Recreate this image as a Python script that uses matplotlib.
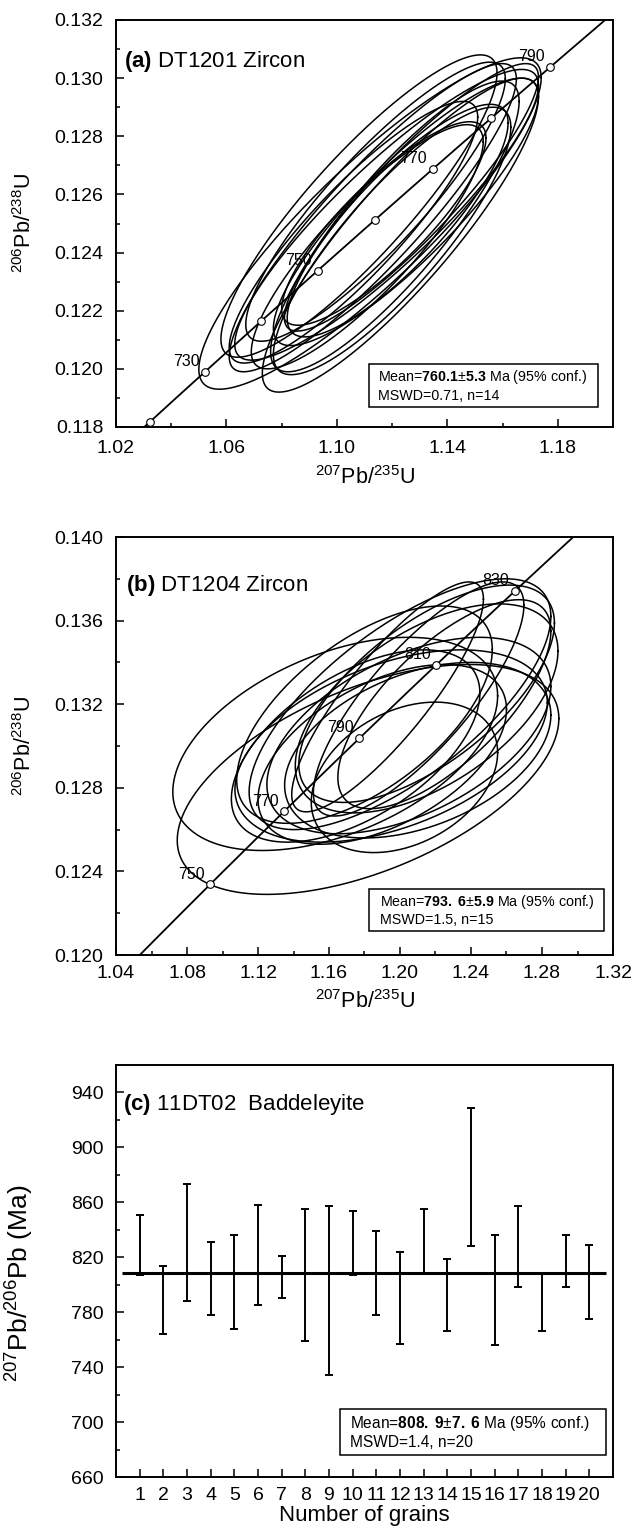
import numpy as np
import matplotlib
matplotlib.use("Agg")
import matplotlib.pyplot as plt
from matplotlib.patches import Rectangle
from matplotlib.ticker import MultipleLocator, FixedLocator

FONT = "Liberation Sans"
plt.rcParams["font.family"] = [FONT, "DejaVu Sans"]
plt.rcParams["mathtext.fontset"] = "custom"
plt.rcParams["mathtext.rm"] = FONT
plt.rcParams["mathtext.bf"] = FONT + ":bold"
plt.rcParams["mathtext.default"] = "regular"

# decay constants (1/yr) for the concordia curve
L238 = 1.55125e-10
L235 = 9.8485e-10

# ---- (a) DT1201 zircon: ellipse centre x, centre y, half-width x, half-height y, rho
a_cx = [1.1120, 1.1170, 1.1080, 1.1230, 1.1140, 1.1210, 1.1060, 1.1250, 1.1110, 1.1270, 1.1180, 1.1200, 1.1130, 1.1220]
a_cy = [0.12500, 0.12500, 0.12560, 0.12460, 0.12575, 0.12490, 0.12470, 0.12540, 0.12420, 0.12590, 0.12530, 0.12440, 0.12520, 0.12510]
a_hx = [0.0620, 0.0370, 0.0500, 0.0500, 0.0470, 0.0450, 0.0450, 0.0480, 0.0420, 0.0460, 0.0550, 0.0430, 0.0520, 0.0400]
a_hy = [0.0057, 0.0035, 0.0052, 0.0054, 0.0048, 0.0050, 0.0045, 0.0046, 0.0042, 0.0046, 0.0050, 0.0046, 0.0053, 0.0040]
a_rho = [0.88, 0.84, 0.88, 0.88, 0.88, 0.86, 0.88, 0.87, 0.86, 0.90, 0.89, 0.85, 0.90, 0.84]
a_ages = [720, 730, 740, 750, 760, 770, 780, 790]
a_labels = [730, 750, 770, 790]

# ---- (b) DT1204 zircon
b_cx = [1.1820, 1.1635, 1.1930, 1.2105, 1.2000, 1.2150, 1.2050, 1.1950, 1.2100, 1.2025, 1.1800, 1.1900, 1.2150, 1.1750, 1.2250]
b_cy = [0.1284, 0.1301, 0.13235, 0.13225, 0.1320, 0.1318, 0.1305, 0.1300, 0.1298, 0.1285, 0.1315, 0.1296, 0.1325, 0.1300, 0.1320]
b_hx = [0.1075, 0.0915, 0.0540, 0.0593, 0.0850, 0.0740, 0.0800, 0.0880, 0.0750, 0.0525, 0.0720, 0.0700, 0.0720, 0.0700, 0.0600]
b_hy = [0.0055, 0.0051, 0.0055, 0.0056, 0.0060, 0.0050, 0.0047, 0.0046, 0.0042, 0.0036, 0.0052, 0.0043, 0.0052, 0.0046, 0.0050]
b_rho = [0.53, 0.45, 0.85, 0.80, 0.70, 0.55, 0.50, 0.45, 0.40, 0.33, 0.60, 0.50, 0.65, 0.55, 0.70]
b_ages = [750, 770, 790, 810, 830]
b_labels = [750, 770, 790, 810, 830]

# ---- (c) 11DT02 baddeleyite 207Pb/206Pb ages, error bar ends (Ma)
grains = list(range(1, 21))
c_low = [807, 764, 788, 778, 768, 785, 790, 759, 734, 807, 778, 757, 808, 766, 828, 756, 798, 766, 798, 775]
c_high = [851, 814, 873, 831, 836, 858, 821, 855, 857, 854, 839, 824, 855, 819, 929, 836, 857, 808, 836, 829]
c_mean = 808.9
c_yticks = [660, 700, 740, 780, 820, 860, 900, 940]

fig = plt.figure(figsize=(6.32, 15.31), dpi=100)
W, H = 632.0, 1531.0


def add_axes(left, right, top, bottom):
    return fig.add_axes([left / W, 1 - bottom / H, (right - left) / W, (bottom - top) / H])


def concordia(t_ma):
    t = np.asarray(t_ma, dtype=float) * 1e6
    return np.exp(L235 * t) - 1, np.exp(L238 * t) - 1


def ellipse(cx, cy, hx, hy, rho):
    t = np.linspace(0, 2 * np.pi, 300)
    x = cx + hx * np.cos(t)
    y = cy + hy * (rho * np.cos(t) + np.sqrt(1 - rho ** 2) * np.sin(t))
    return x, y


def style(ax, xpad=7, ypad=9):
    ax.tick_params(which="both", direction="in", top=False, right=False,
                   labelsize=14, width=1.1)
    ax.tick_params(which="major", length=6)
    ax.tick_params(which="minor", length=3)
    ax.tick_params(axis="x", which="major", pad=xpad)
    ax.tick_params(axis="y", which="major", pad=ypad)
    for s in ax.spines.values():
        s.set_linewidth(1.4)


def conc_panel(ax, cx, cy, hx, hy, rho, ages, labels, xlim, ylim):
    for i in range(len(cx)):
        ex, ey = ellipse(cx[i], cy[i], hx[i], hy[i], rho[i])
        ax.plot(ex, ey, color="black", lw=1.1)
    tx, ty = concordia(np.linspace(600, 900, 400))
    ax.plot(tx, ty, color="black", lw=1.3, zorder=3)
    px, py = concordia(ages)
    ax.plot(px, py, "o", ms=5.5, mfc="white", mec="black", mew=0.8, zorder=4)
    for age in labels:
        lx, ly = concordia([age])
        ax.annotate(str(age), (lx[0], ly[0]), xytext=(-4, 2), textcoords="offset points",
                    ha="right", va="bottom", fontsize=11.5, zorder=5)
    ax.set_xlim(*xlim)
    ax.set_ylim(*ylim)


def stat_box(ax, x0, y0, x1, y1, line1, line2, size=10.3, inset=0.02):
    ax.add_patch(Rectangle((x0, y0), x1 - x0, y1 - y0, transform=ax.transAxes,
                           fill=True, fc="white", ec="black", lw=1.1, zorder=6))
    ax.text(x0 + inset, (y0 + y1) / 2, line1 + "\n" + line2, transform=ax.transAxes,
            ha="left", va="center", fontsize=size, linespacing=1.2, zorder=7)


# ---------------- panel (a)
ax1 = add_axes(116, 613, 20, 427)
conc_panel(ax1, a_cx, a_cy, a_hx, a_hy, a_rho, a_ages, a_labels, (1.02, 1.20), (0.118, 0.132))
ax1.xaxis.set_major_locator(FixedLocator([1.02, 1.06, 1.10, 1.14, 1.18]))
ax1.xaxis.set_minor_locator(MultipleLocator(0.02))
ax1.yaxis.set_major_locator(MultipleLocator(0.002))
ax1.yaxis.set_minor_locator(MultipleLocator(0.001))
ax1.xaxis.set_major_formatter(lambda v, p: f"{v:.2f}")
ax1.yaxis.set_major_formatter(lambda v, p: f"{v:.3f}")
style(ax1, xpad=9.5)
ax1.set_xlabel(r"$^{207}$Pb/$^{235}$U", fontsize=15.5)
ax1.set_ylabel(r"$^{206}$Pb/$^{238}$U", fontsize=15.5)
ax1.xaxis.set_label_coords(0.5, -0.095)
ax1.yaxis.set_label_coords(-0.161, 0.5)
ax1.text(0.016, 0.897, r"$\mathbf{(a)}$ DT1201 Zircon", transform=ax1.transAxes,
         fontsize=16, va="center", ha="left")
stat_box(ax1, 0.509, 0.049, 0.970, 0.155,
         r"Mean=$\mathbf{760.1}{\pm}\mathbf{5.3}$ Ma (95% conf.)", "MSWD=0.71, n=14",
         inset=0.018)

# ---------------- panel (b)
ax2 = add_axes(116, 613, 537, 955)
conc_panel(ax2, b_cx, b_cy, b_hx, b_hy, b_rho, b_ages, b_labels, (1.04, 1.32), (0.120, 0.140))
ax2.xaxis.set_major_locator(MultipleLocator(0.04))
ax2.xaxis.set_minor_locator(MultipleLocator(0.02))
ax2.yaxis.set_major_locator(MultipleLocator(0.004))
ax2.yaxis.set_minor_locator(MultipleLocator(0.002))
ax2.xaxis.set_major_formatter(lambda v, p: f"{v:.2f}")
ax2.yaxis.set_major_formatter(lambda v, p: f"{v:.3f}")
style(ax2)
ax2.set_xlabel(r"$^{207}$Pb/$^{235}$U", fontsize=15.5)
ax2.set_ylabel(r"$^{206}$Pb/$^{238}$U", fontsize=15.5)
ax2.xaxis.set_label_coords(0.5, -0.085)
ax2.yaxis.set_label_coords(-0.161, 0.5)
ax2.text(0.02, 0.885, r"$\mathbf{(b)}$ DT1204 Zircon", transform=ax2.transAxes,
         fontsize=16, va="center", ha="left")
stat_box(ax2, 0.509, 0.057, 0.982, 0.158,
         r"Mean=$\mathbf{793.}\:\mathbf{6}{\pm}\mathbf{5.9}$ Ma (95% conf.)", "MSWD=1.5, n=15",
         inset=0.022)

# ---------------- panel (c)
ax3 = add_axes(116, 613, 1065, 1477)
g = np.array(grains)
lo = np.array(c_low, dtype=float)
hi = np.array(c_high, dtype=float)
mid = (lo + hi) / 2
ax3.errorbar(g, mid, yerr=(hi - lo) / 2, fmt="none", ecolor="black", elinewidth=1.4,
             capsize=2.6, capthick=1.4)
ax3.hlines(c_mean, 0.25, 20.7, color="black", lw=2.2, zorder=4)
ax3.set_xlim(0, 21)
ax3.set_ylim(660, 960)
ax3.set_xticks(grains)
ax3.set_xticklabels([str(v) for v in grains])
ax3.yaxis.set_major_locator(FixedLocator(c_yticks))
ax3.yaxis.set_minor_locator(MultipleLocator(20))
ax3.yaxis.set_major_formatter(lambda v, p: f"{v:.0f}")
style(ax3)
ax3.set_xlabel("Number of grains", fontsize=16)
ax3.set_ylabel(r"$^{207}$Pb/$^{206}$Pb (Ma)", fontsize=19)
ax3.xaxis.set_label_coords(0.5, -0.068)
ax3.yaxis.set_label_coords(-0.161, 0.47)
ax3.text(0.014, 0.903, r"$\mathbf{(c)}$ 11DT02  Baddeleyite", transform=ax3.transAxes,
         fontsize=16, va="center", ha="left")
stat_box(ax3, 0.451, 0.053, 0.986, 0.165,
         r"Mean=$\mathbf{808.}\:\mathbf{9}{\pm}\mathbf{7.}\:\mathbf{6}$ Ma (95% conf.)",
         "MSWD=1.4, n=20", size=11.2, inset=0.02)

fig.savefig("out.png", dpi=100)
